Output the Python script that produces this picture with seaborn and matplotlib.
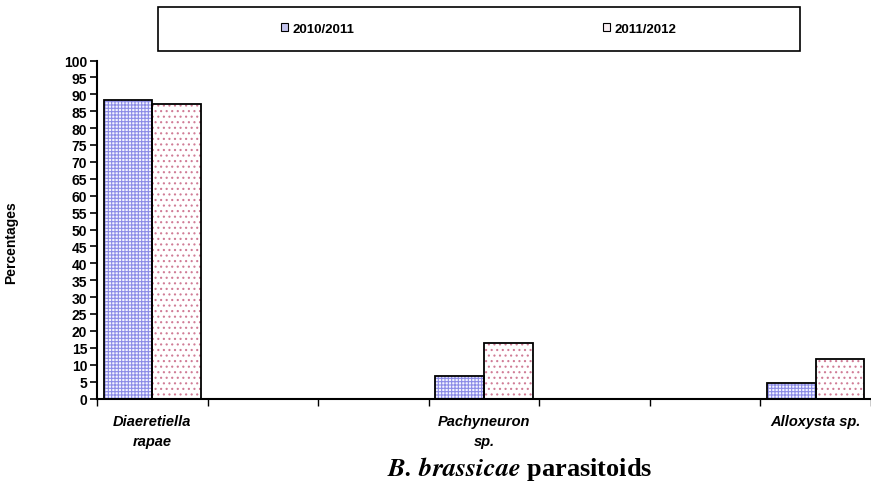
import matplotlib
matplotlib.use("Agg")
import matplotlib.pyplot as plt
from matplotlib.patches import Patch, Rectangle
import seaborn as sns
import pandas as pd

# Parasitoid species and their share (%) of B. brassicae parasitism per season
species = ["Diaeretiella\nrapae", "Pachyneuron\nsp.", "Alloxysta sp."]
season_labels = ["2010/2011", "2011/2012"]
pct_2010_2011 = [88.3, 6.8, 4.6]
pct_2011_2012 = [87.1, 16.5, 11.7]

# Slot order on the x axis, with empty slots between the species
slot_order = [species[0], " ", "  ", species[1], "   ", "    ", species[2]]

df = pd.DataFrame({
    "species": species * 2,
    "season": [season_labels[0]] * 3 + [season_labels[1]] * 3,
    "pct": pct_2010_2011 + pct_2011_2012,
})

sns.set_theme(style="white")
plt.rcParams["font.family"] = ["Liberation Sans", "DejaVu Sans"]
plt.rcParams["mathtext.fontset"] = "stix"
plt.rcParams["hatch.linewidth"] = 0.8
for key in ["text.color", "axes.labelcolor", "xtick.color", "ytick.color"]:
    plt.rcParams[key] = "black"

fig = plt.figure(figsize=(8.71, 4.89), dpi=100)
ax = fig.add_axes([97 / 871, 1 - 399.5 / 489, 1 - 97 / 871, (399.5 - 61.5) / 489])

hatch_cols = {season_labels[0]: "#8c8ce6", season_labels[1]: "#d07c96"}
face_cols = {season_labels[0]: "#f4f4ff", season_labels[1]: "#ffffff"}
hatches = {season_labels[0]: "+++++", season_labels[1]: "..."}
legend_cols = {season_labels[0]: "#c4c4ee", season_labels[1]: "#f8eef2"}

sns.barplot(data=df, x="species", y="pct", hue="season", order=slot_order,
            hue_order=season_labels, width=0.88, palette=face_cols,
            errorbar=None, legend=False, ax=ax)

for season, cont in zip(season_labels, ax.containers):
    for bar in cont:
        bar.set_facecolor(face_cols[season])
        bar.set_edgecolor(hatch_cols[season])
        bar.set_hatch(hatches[season])
        bar.set_linewidth(0)
        ax.add_patch(Rectangle(bar.get_xy(), bar.get_width(), bar.get_height(),
                               fill=False, edgecolor="black", linewidth=1.3,
                               zorder=bar.get_zorder() + 0.1))

# Axes styling
ax.set_ylim(0, 100)
ax.set_xlim(-0.5, -0.5 + 774 / 111)
ax.set_yticks(range(0, 101, 5))
ax.tick_params(axis="y", which="major", length=5, width=1.2, direction="out",
               labelsize=10, pad=2, left=True, color="black", labelcolor="black")
for lbl in ax.get_yticklabels():
    lbl.set_fontweight("bold")

ax.set_xticks(range(len(slot_order)))
ax.set_xticklabels(["" if s.strip() == "" else s for s in slot_order],
                   fontsize=10.5, fontweight="bold", fontstyle="italic",
                   linespacing=1.6, color="black")
ax.tick_params(axis="x", which="major", length=0, pad=11)
ax.set_xticks([i - 0.5 for i in range(len(slot_order) + 1)], minor=True)
ax.tick_params(axis="x", which="minor", length=5, width=1.0, direction="out",
               bottom=True, color="black")

for side in ["top", "right"]:
    ax.spines[side].set_visible(False)
for side in ["left", "bottom"]:
    ax.spines[side].set_color("black")
    ax.spines[side].set_linewidth(1.5)

ax.set_ylabel("Percentages", fontsize=10, fontweight="bold", color="black")
ax.yaxis.set_label_coords((18 - 97) / 774, (399.5 - 243) / 338)
ax.set_xlabel("")

# Caption under the axis
fig.text(520 / 871, 1 - 469 / 489, r"$\mathbfit{B.\,brassicae}$ parasitoids",
         ha="center", va="center", fontsize=19, fontweight="bold",
         family="Liberation Serif", color="black")

# Legend inside a wide frame box
handles = [Patch(facecolor=legend_cols[s], edgecolor="black", linewidth=0.8)
           for s in season_labels]
fig.legend(handles, season_labels, loc="center",
           bbox_to_anchor=(478.5 / 871, 1 - 30 / 489), ncol=2, frameon=False,
           prop={"size": 9.5, "weight": "bold"}, handlelength=0.55,
           handleheight=0.55, handletextpad=0.35, columnspacing=18.8,
           labelcolor="black")
fig.add_artist(Rectangle((158 / 871, 1 - 52 / 489), (800 - 158) / 871, 44 / 489,
                         transform=fig.transFigure, fill=False,
                         edgecolor="black", linewidth=1.2))

fig.savefig("out.png", dpi=100)
